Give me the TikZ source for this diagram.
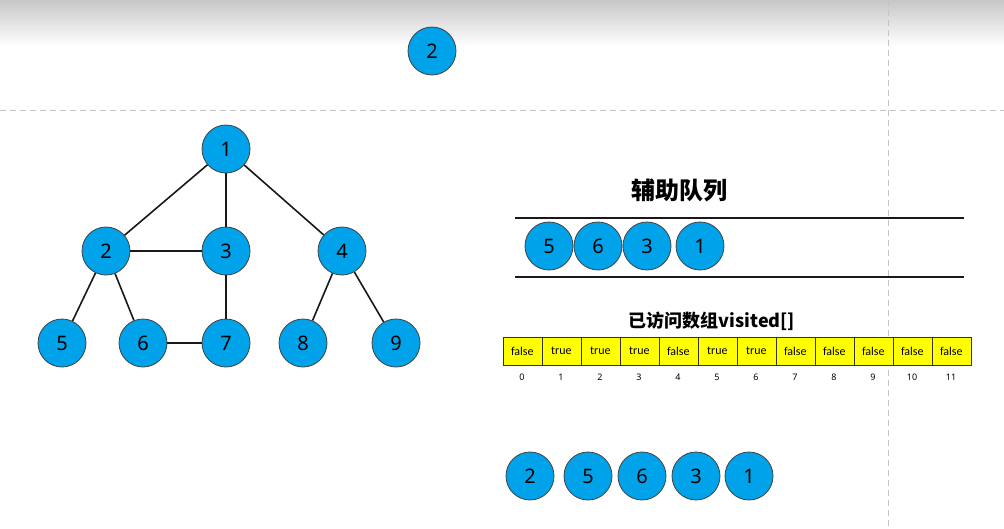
\documentclass[tikz,border=0pt]{standalone}
\usepackage{fontspec}
\setmainfont{Noto Sans}
\newfontfamily\cjkfont{Noto Sans CJK SC}
\newfontfamily\carlitofont{Carlito}
\definecolor{nodeblue}{RGB}{0,162,234}
\definecolor{dashgray}{RGB}{195,195,195}
\definecolor{cellyellow}{RGB}{255,255,0}
\tikzset{
  vtx/.style={circle,draw=black!75,line width=0.8pt,fill=nodeblue,minimum size=48pt,inner sep=0pt,font=\fontsize{20}{20}\selectfont},
  edge/.style={line width=1.6pt,black!90},
  qline/.style={line width=2.6pt,black!90},
  guide/.style={dashgray,line width=0.8pt,dash pattern=on 6pt off 4pt},
  cell/.style={draw=black!80,line width=0.7pt,fill=cellyellow,minimum width=39pt,minimum height=28pt,inner sep=0pt,anchor=west,font=\carlitofont\fontsize{12}{12}\selectfont},
  idx/.style={font=\fontsize{9}{9}\selectfont},
}
\begin{document}
\begin{tikzpicture}[x=1pt,y=-1pt]
\useasboundingbox (0,0) rectangle (1004,528);
\fill[white] (0,0) rectangle (1004,528);
\shade[top color=black!22,bottom color=white] (0,0) rectangle (1004,46);
% guides
\draw[guide] (0,110) -- (1004,110);
\draw[guide] (888,0) -- (888,528);
% top node
\node[vtx] (t2) at (432,51) {2};
% graph
\node[vtx] (n1) at (226,149) {1};
\node[vtx] (n2) at (106,251) {2};
\node[vtx] (n3) at (226,251) {3};
\node[vtx] (n4) at (342,251) {4};
\node[vtx] (n5) at (62,343) {5};
\node[vtx] (n6) at (143,343) {6};
\node[vtx] (n7) at (226,343) {7};
\node[vtx] (n8) at (303,343) {8};
\node[vtx] (n9) at (396,343) {9};
\draw[edge] (n1) -- (n2);
\draw[edge] (n1) -- (n3);
\draw[edge] (n1) -- (n4);
\draw[edge] (n2) -- (n3);
\draw[edge] (n2) -- (n5);
\draw[edge] (n2) -- (n6);
\draw[edge] (n3) -- (n7);
\draw[edge] (n6) -- (n7);
\draw[edge] (n4) -- (n8);
\draw[edge] (n4) -- (n9);
% queue
\node[font=\cjkfont\bfseries\fontsize{24}{24}\selectfont] (qtitle) at (679,190) {辅助队列};
\coordinate (qa1) at (515,218);
\coordinate (qb1) at (964,218);
\coordinate (qa2) at (515,277);
\coordinate (qb2) at (964,277);
\draw[qline] (qa1) -- (qb1);
\draw[qline] (qa2) -- (qb2);
\node[vtx] (q5) at (549,246) {5};
\node[vtx] (q6) at (598,246) {6};
\node[vtx] (q3) at (647,246) {3};
\node[vtx] (q1) at (700,246) {1};
% visited array
\node[font=\cjkfont\bfseries\fontsize{18}{18}\selectfont] (vtitle) at (712,321) {已访问数组visited[]};
\foreach \v [count=\i from 0] in {false,true,true,true,false,true,true,false,false,false,false,false}{
  \node[cell] (c\i) at ({502.5+39*\i},351) {\v};
  \node[idx] (i\i) at ({502.5+39*\i+19.5},377) {\i};
}
% bottom row
\node[vtx] (b2) at (530,476) {2};
\node[vtx] (b5) at (588,476) {5};
\node[vtx] (b6) at (642,476) {6};
\node[vtx] (b3) at (696,476) {3};
\node[vtx] (b1) at (749,476) {1};
\end{tikzpicture}
\end{document}
